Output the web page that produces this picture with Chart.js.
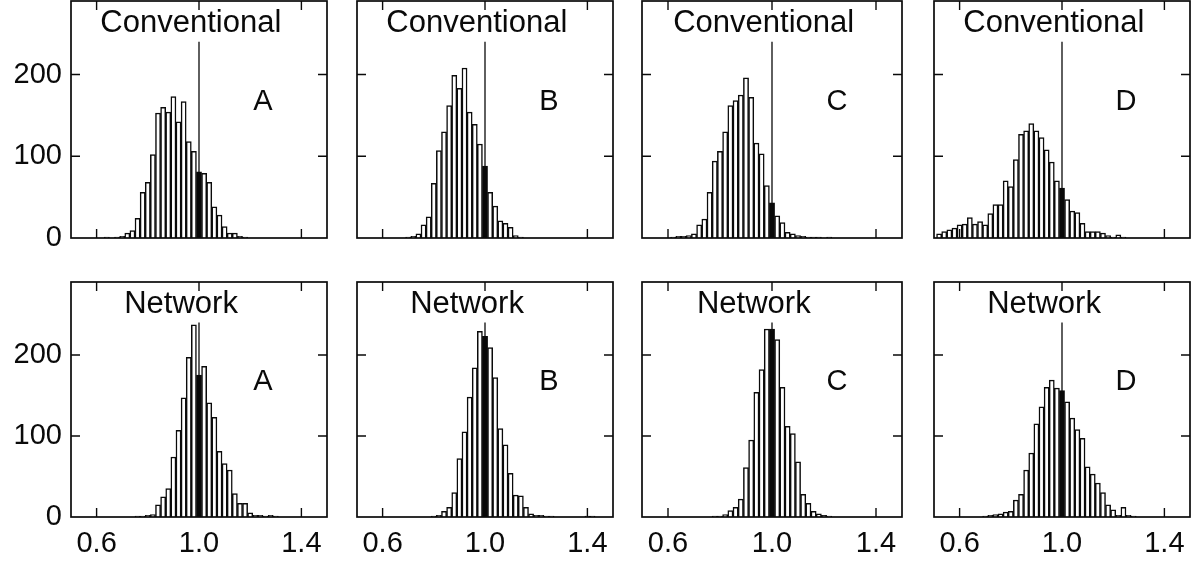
<!DOCTYPE html>
<html>
<head>
<meta charset="utf-8">
<script src="https://cdn.jsdelivr.net/npm/chart.js@4.4.1/dist/chart.umd.min.js"></script>
<style>
  html, body { margin: 0; padding: 0; background: #fff; }
  #wrap { position: relative; width: 1199px; height: 567px; overflow: hidden; }
  canvas { position: absolute; }
</style>
</head>
<body>
<div id="wrap"></div>
<script>
// bin centres (bin width 0.02)
const binCenters = [0.52,0.54,0.56,0.58,0.60,0.62,0.64,0.66,0.68,0.70,
  0.72,0.74,0.76,0.78,0.80,0.82,0.84,0.86,0.88,0.90,
  0.92,0.94,0.96,0.98,1.00,1.02,1.04,1.06,1.08,1.10,
  1.12,1.14,1.16,1.18,1.20,1.22,1.24,1.26,1.28,1.30,
  1.32,1.34,1.36,1.38,1.40,1.42,1.44,1.46,1.48];

const convA = [0,0,0,0,0,0,1,0,1,2, 6,9,24,56,68,102,153,160,154,173, 142,167,118,106,81,79,68,38,28,14, 6,6,2,1,0,0,0,0,0,0, 0,0,0,0,0,0,0,0,0];
const convB = [0,0,0,0,0,0,0,0,0,1, 2,5,16,26,67,107,130,162,199,183, 208,154,139,115,88,56,39,21,18,13, 3,1,0,0,0,0,0,0,0,0, 0,0,0,0,0,0,0,0,0];
const convC = [0,0,0,0,0,1,2,2,3,5, 16,23,56,94,106,130,162,168,175,196, 172,116,103,64,43,27,19,7,5,3, 2,1,1,1,0,1,0,0,0,0, 0,0,0,0,0,0,0,0,0];
const convD = [5,8,10,12,16,17,25,17,20,16, 30,41,41,70,63,96,127,131,140,131, 123,108,93,70,61,47,33,31,18,8, 8,8,6,3,1,4,1,0,0,0, 0,0,0,0,0,0,0,0,0];

const netA = [0,0,0,0,0,0,0,0,0,0, 0,0,1,1,2,3,15,25,35,74, 107,147,197,237,175,186,141,123,81,66, 58,29,17,17,5,2,2,1,2,1, 0,0,0,0,0,0,0,0,0];
const netB = [0,0,0,0,0,0,0,0,0,0, 0,0,0,0,1,2,7,12,30,72, 105,148,184,229,223,209,172,109,89,54, 27,26,12,4,2,2,1,1,0,0, 0,0,0,0,1,1,0,0,0];
const netC = [0,0,0,0,0,0,0,0,0,0, 0,0,0,1,1,3,8,12,22,61, 95,154,182,232,232,219,160,112,103,68, 28,17,7,4,2,1,0,0,0,0, 0,0,0,0,0,0,0,0,0];
const netD = [0,0,0,0,0,0,0,0,0,1, 2,3,4,6,7,21,28,58,79,115, 136,160,169,159,156,142,122,108,97,62, 53,42,30,15,9,2,12,2,1,0, 0,0,0,0,0,0,0,0,0];

const xTicks = [0.6, 1.0, 1.4];
const yTicks = [0, 100, 200];
const rowTitles = ['Conventional', 'Network'];
const panelLetters = ['A', 'B', 'C', 'D'];
const series = [[convA, convB, convC, convD], [netA, netB, netC, netD]];

// layout (pixels)
const colLeft = [71, 357, 642, 934];
const colWidth = [256, 256, 260, 256];
const rowTop = [1, 282];
const rowHeight = [237, 235];
const FONT = '"Liberation Sans", Arial, Helvetica, sans-serif';
const INK = '#0a0a0a';

const panelDeco = {
  id: 'panelDeco',
  afterDatasetsDraw(chart, args, opts) {
    const { ctx, chartArea: a, scales: { x, y } } = chart;
    ctx.save();
    ctx.strokeStyle = INK;
    ctx.lineWidth = 1.7;
    ctx.strokeRect(a.left, a.top, a.right - a.left, a.bottom - a.top);
    ctx.lineWidth = 1.4;
    ctx.beginPath();
    xTicks.forEach(v => {
      const px = x.getPixelForValue(v);
      ctx.moveTo(px, a.top); ctx.lineTo(px, a.top + 9);
      ctx.moveTo(px, a.bottom); ctx.lineTo(px, a.bottom - 9);
    });
    yTicks.slice(1).forEach(v => {
      const py = y.getPixelForValue(v);
      ctx.moveTo(a.left, py); ctx.lineTo(a.left + 9, py);
      ctx.moveTo(a.right, py); ctx.lineTo(a.right - 9, py);
    });
    ctx.stroke();
    ctx.fillStyle = INK;
    ctx.textAlign = 'center';
    ctx.textBaseline = 'middle';
    ctx.font = `31px ${FONT}`;
    ctx.fillText(opts.title, x.getPixelForValue(opts.titleX), y.getPixelForValue(262));
    ctx.font = `29px ${FONT}`;
    ctx.fillText(opts.letter, x.getPixelForValue(1.25), y.getPixelForValue(167));
    ctx.restore();
  }
};

const wrap = document.getElementById('wrap');

for (let r = 0; r < 2; r++) {
  for (let c = 0; c < 4; c++) {
    const axisW = c === 0 ? 71 : 2;
    const axisH = r === 1 ? 50 : 20;
    const w = axisW + colWidth[c] + 2;
    const h = 2 + rowHeight[r] + axisH;
    const cv = document.createElement('canvas');
    cv.width = w; cv.height = h;
    cv.style.width = w + 'px'; cv.style.height = h + 'px';
    cv.style.left = (colLeft[c] - axisW) + 'px';
    cv.style.top = (rowTop[r] - 2) + 'px';
    wrap.appendChild(cv);

    const counts = series[r][c];

    new Chart(cv, {
      type: 'bar',
      data: {
        datasets: [
          {
            type: 'line',
            data: [{ x: 1.0, y: 0 }, { x: 1.0, y: 240 }],
            borderColor: INK,
            borderWidth: 1.3,
            pointRadius: 0
          },
          {
            type: 'bar',
            data: binCenters.map((b, i) => ({ x: b, y: counts[i] })),
            backgroundColor: ctx => binCenters[ctx.dataIndex] === 1 ? INK : '#fff',
            borderColor: INK,
            borderWidth: 1.5,
            barPercentage: 1,
            categoryPercentage: 1
          }
        ]
      },
      options: {
        responsive: false,
        animation: false,
        events: [],
        layout: { padding: { top: 2, right: 2, left: 0, bottom: 0 } },
        plugins: {
          legend: { display: false },
          tooltip: { enabled: false },
          panelDeco: {
            title: rowTitles[r],
            titleX: r === 0 ? 0.968 : 0.93,
            letter: panelLetters[c]
          }
        },
        scales: {
          x: {
            type: 'linear', min: 0.5, max: 1.5, offset: false,
            grid: { display: false, drawTicks: false },
            border: { display: false },
            afterBuildTicks: s => { s.ticks = xTicks.map(v => ({ value: v })); },
            ticks: {
              display: r === 1, padding: 10, autoSkip: false, maxRotation: 0,
              color: INK, font: { size: 29, family: FONT },
              callback: v => Number(v).toFixed(1)
            },
            afterFit: s => { s.height = axisH; s.paddingLeft = 0; s.paddingRight = 0; }
          },
          y: {
            type: 'linear', min: 0, max: 290,
            grid: { display: false, drawTicks: false },
            border: { display: false },
            afterBuildTicks: s => { s.ticks = yTicks.map(v => ({ value: v })); },
            ticks: {
              display: c === 0, padding: 9,
              color: INK, font: { size: 29, family: FONT }
            },
            afterFit: s => { s.width = axisW; s.paddingTop = 0; s.paddingBottom = 0; }
          }
        }
      },
      plugins: [panelDeco]
    });
  }
}
</script>
</body>
</html>
